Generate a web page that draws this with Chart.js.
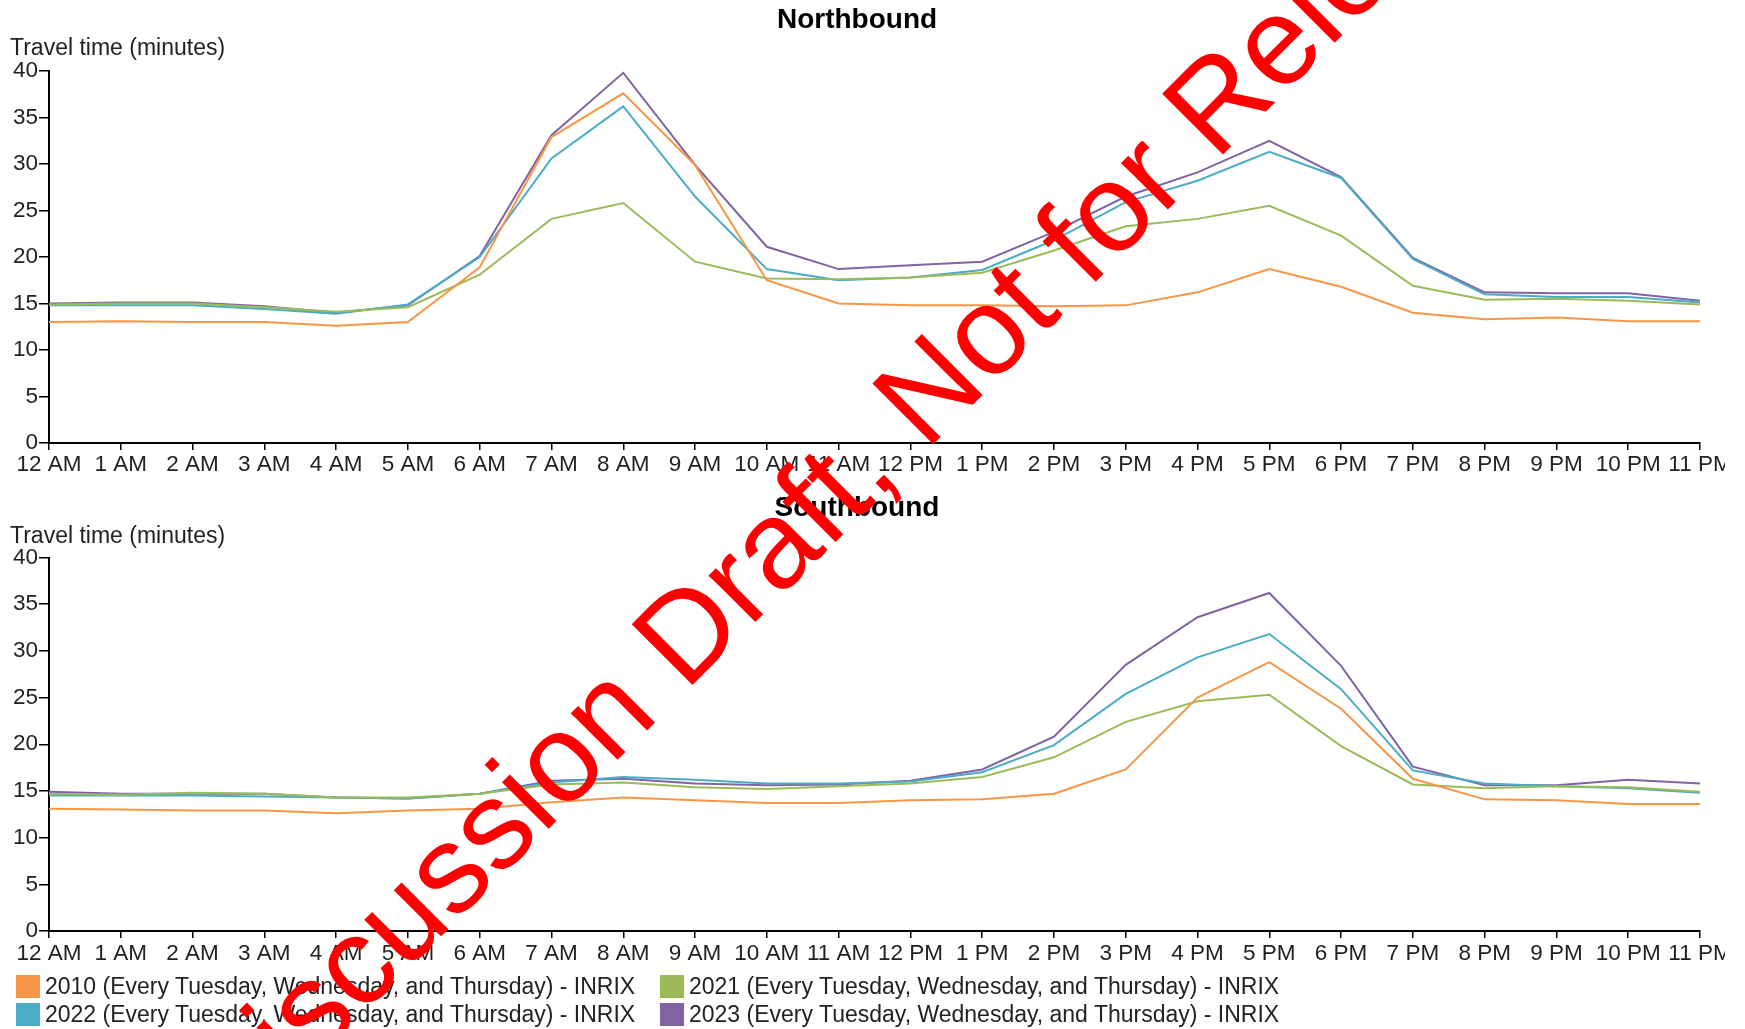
<!DOCTYPE html>
<html>
<head>
<meta charset="utf-8">
<script src="https://cdn.jsdelivr.net/npm/chart.js@4.4.0/dist/chart.umd.min.js"></script>
<style>
  html, body { margin: 0; padding: 0; background: #fff; }
  body { width: 1745px; height: 1029px; overflow: hidden; position: relative; font-family: "Liberation Sans", Arial, sans-serif; }
  .panel { position: absolute; left: 0; width: 1725px; overflow: hidden; }
  #legend { position: absolute; left: 0; top: 0; width: 1745px; height: 1029px; pointer-events: none; }
  .lg-item { position: absolute; display: flex; align-items: center; height: 24px; font-size: 23px; color: #222; white-space: nowrap; }
  .lg-box { width: 24px; height: 23px; margin-right: 5px; }
  #watermark { position: absolute; left: 856px; top: 460px; transform: translate(-50%, -50%) rotate(-45deg); font-family: "Liberation Sans", Arial, sans-serif; font-size: 125px; color: #ff0000; white-space: nowrap; pointer-events: none; line-height: 1; }
</style>
</head>
<body>
<div class="panel" style="top:0;height:480px;"><canvas id="north" width="1725" height="480"></canvas></div>
<div class="panel" style="top:480px;height:500px;"><canvas id="south" width="1725" height="500"></canvas></div>
<div id="legend"></div>
<div id="watermark">Discussion Draft, Not for Release</div>
<script>
// ---------- data ----------
const hours = ['12 AM','1 AM','2 AM','3 AM','4 AM','5 AM','6 AM','7 AM','8 AM','9 AM','10 AM','11 AM',
               '12 PM','1 PM','2 PM','3 PM','4 PM','5 PM','6 PM','7 PM','8 PM','9 PM','10 PM','11 PM'];
const yTicks = [0, 5, 10, 15, 20, 25, 30, 35, 40];
const seriesNames = [
  '2010 (Every Tuesday, Wednesday, and Thursday) - INRIX',
  '2021 (Every Tuesday, Wednesday, and Thursday) - INRIX',
  '2022 (Every Tuesday, Wednesday, and Thursday) - INRIX',
  '2023 (Every Tuesday, Wednesday, and Thursday) - INRIX'
];
const seriesColors = ['#F79646', '#9BBB59', '#4BACC6', '#8064A2'];

const north2010 = [13.0,13.1,13.0,13.0,12.6,13.0,18.9,32.9,37.6,29.9,17.5,15.0,14.8,14.8,14.7,14.8,16.2,18.7,16.8,14.0,13.3,13.5,13.1,13.1];
const north2021 = [14.9,15.0,15.0,14.6,14.1,14.6,18.1,24.1,25.8,19.5,17.7,17.6,17.8,18.3,20.7,23.3,24.1,25.5,22.3,16.9,15.4,15.5,15.3,14.9];
const north2022 = [14.8,14.8,14.8,14.4,13.9,14.9,20.0,30.6,36.2,26.5,18.7,17.5,17.8,18.6,21.8,25.9,28.2,31.3,28.5,19.8,16.0,15.7,15.7,15.1];
const north2023 = [15.0,15.1,15.1,14.7,14.0,14.8,20.1,33.1,39.8,29.9,21.1,18.7,19.1,19.5,22.7,26.5,29.1,32.5,28.6,19.9,16.2,16.1,16.1,15.3];

const south2010 = [13.1,13.0,12.9,12.9,12.6,12.9,13.1,13.8,14.3,14.0,13.7,13.7,14.0,14.1,14.7,17.3,25.0,28.8,23.8,16.3,14.1,14.0,13.6,13.6];
const south2021 = [14.7,14.6,14.8,14.7,14.3,14.3,14.7,15.7,15.9,15.4,15.2,15.5,15.8,16.5,18.6,22.4,24.6,25.3,19.8,15.7,15.3,15.5,15.4,14.9];
const south2022 = [14.5,14.5,14.5,14.4,14.3,14.2,14.7,15.9,16.5,16.2,15.8,15.8,16.0,17.0,19.9,25.4,29.3,31.8,25.9,17.2,15.8,15.5,15.3,14.8];
const south2023 = [14.9,14.7,14.7,14.7,14.3,14.2,14.7,16.1,16.3,15.8,15.6,15.7,16.1,17.3,20.8,28.5,33.6,36.2,28.4,17.6,15.6,15.6,16.2,15.8];

const panelTitles = ['Northbound', 'Southbound'];
const yAxisTitle = 'Travel time (minutes)';

// ---------- helpers ----------
const FONT = '"Liberation Sans", Arial, sans-serif';

const panelText = {
  id: 'panelText',
  afterDraw(chart, args, opts) {
    const c = chart.ctx;
    c.save();
    c.fillStyle = '#000';
    c.font = 'bold 28px ' + FONT;
    c.textAlign = 'center';
    c.textBaseline = 'middle';
    c.fillText(opts.title, opts.titleX, opts.titleY);
    c.fillStyle = '#222';
    c.font = '23px ' + FONT;
    c.textAlign = 'left';
    c.fillText(opts.yTitle, opts.yTitleX, opts.yTitleY);
    c.restore();
  }
};

function makeChart(id, seriesList, title, padTop, xHeight, titleY, yTitleY, xPad) {
  const datasets = seriesList.map((vals, i) => ({
    label: seriesNames[i],
    data: vals,
    borderColor: seriesColors[i],
    backgroundColor: seriesColors[i],
    borderWidth: 2,
    pointRadius: 0,
    tension: 0,
    fill: false
  }));
  return new Chart(document.getElementById(id), {
    type: 'line',
    data: { labels: hours, datasets },
    plugins: [panelText],
    options: {
      responsive: false,
      animation: false,
      devicePixelRatio: 1,
      layout: { padding: { top: padTop, right: 25, left: 0, bottom: 0 } },
      plugins: {
        legend: { display: false },
        tooltip: { enabled: false },
        title: { display: false },
        panelText: { title, titleX: 857, titleY, yTitle: yAxisTitle, yTitleX: 10, yTitleY }
      },
      scales: {
        x: {
          type: 'category',
          offset: false,
          grid: { display: true, drawOnChartArea: false, drawTicks: true, tickLength: 7, color: '#000', lineWidth: 1.5 },
          border: { display: true, color: '#000', width: 2 },
          ticks: { autoSkip: false, maxRotation: 0, minRotation: 0, padding: xPad, color: '#222', font: { size: 22.5, family: FONT } },
          afterFit(s) { s.height = xHeight; s.paddingLeft = 0; s.paddingRight = 0; }
        },
        y: {
          min: 0, max: 40,
          afterBuildTicks(s) { s.ticks = yTicks.map(v => ({ value: v })); },
          grid: { display: true, drawOnChartArea: false, drawTicks: true, tickLength: 10, color: '#000', lineWidth: 1.5 },
          border: { display: true, color: '#000', width: 2 },
          ticks: { padding: 1, color: '#222', font: { size: 22.5, family: FONT } },
          afterFit(s) { s.width = 49; }
        }
      }
    }
  });
}

makeChart('north', [north2010, north2021, north2022, north2023], panelTitles[0], 71, 37, 20, 49, 1);
makeChart('south', [south2010, south2021, south2022, south2023], panelTitles[1], 77.5, 49, 28, 57, 2);

// ---------- legend ----------
const legendPos = [[16, 986], [660, 986], [16, 1014], [660, 1014]];
const legendOrder = [0, 1, 2, 3];
const lg = document.getElementById('legend');
legendOrder.forEach((si, k) => {
  const item = document.createElement('div');
  item.className = 'lg-item';
  item.style.left = legendPos[k][0] + 'px';
  item.style.top = (legendPos[k][1] - 12) + 'px';
  const box = document.createElement('span');
  box.className = 'lg-box';
  box.style.background = seriesColors[si];
  const txt = document.createElement('span');
  txt.textContent = seriesNames[si];
  item.appendChild(box);
  item.appendChild(txt);
  lg.appendChild(item);
});
</script>
</body>
</html>
